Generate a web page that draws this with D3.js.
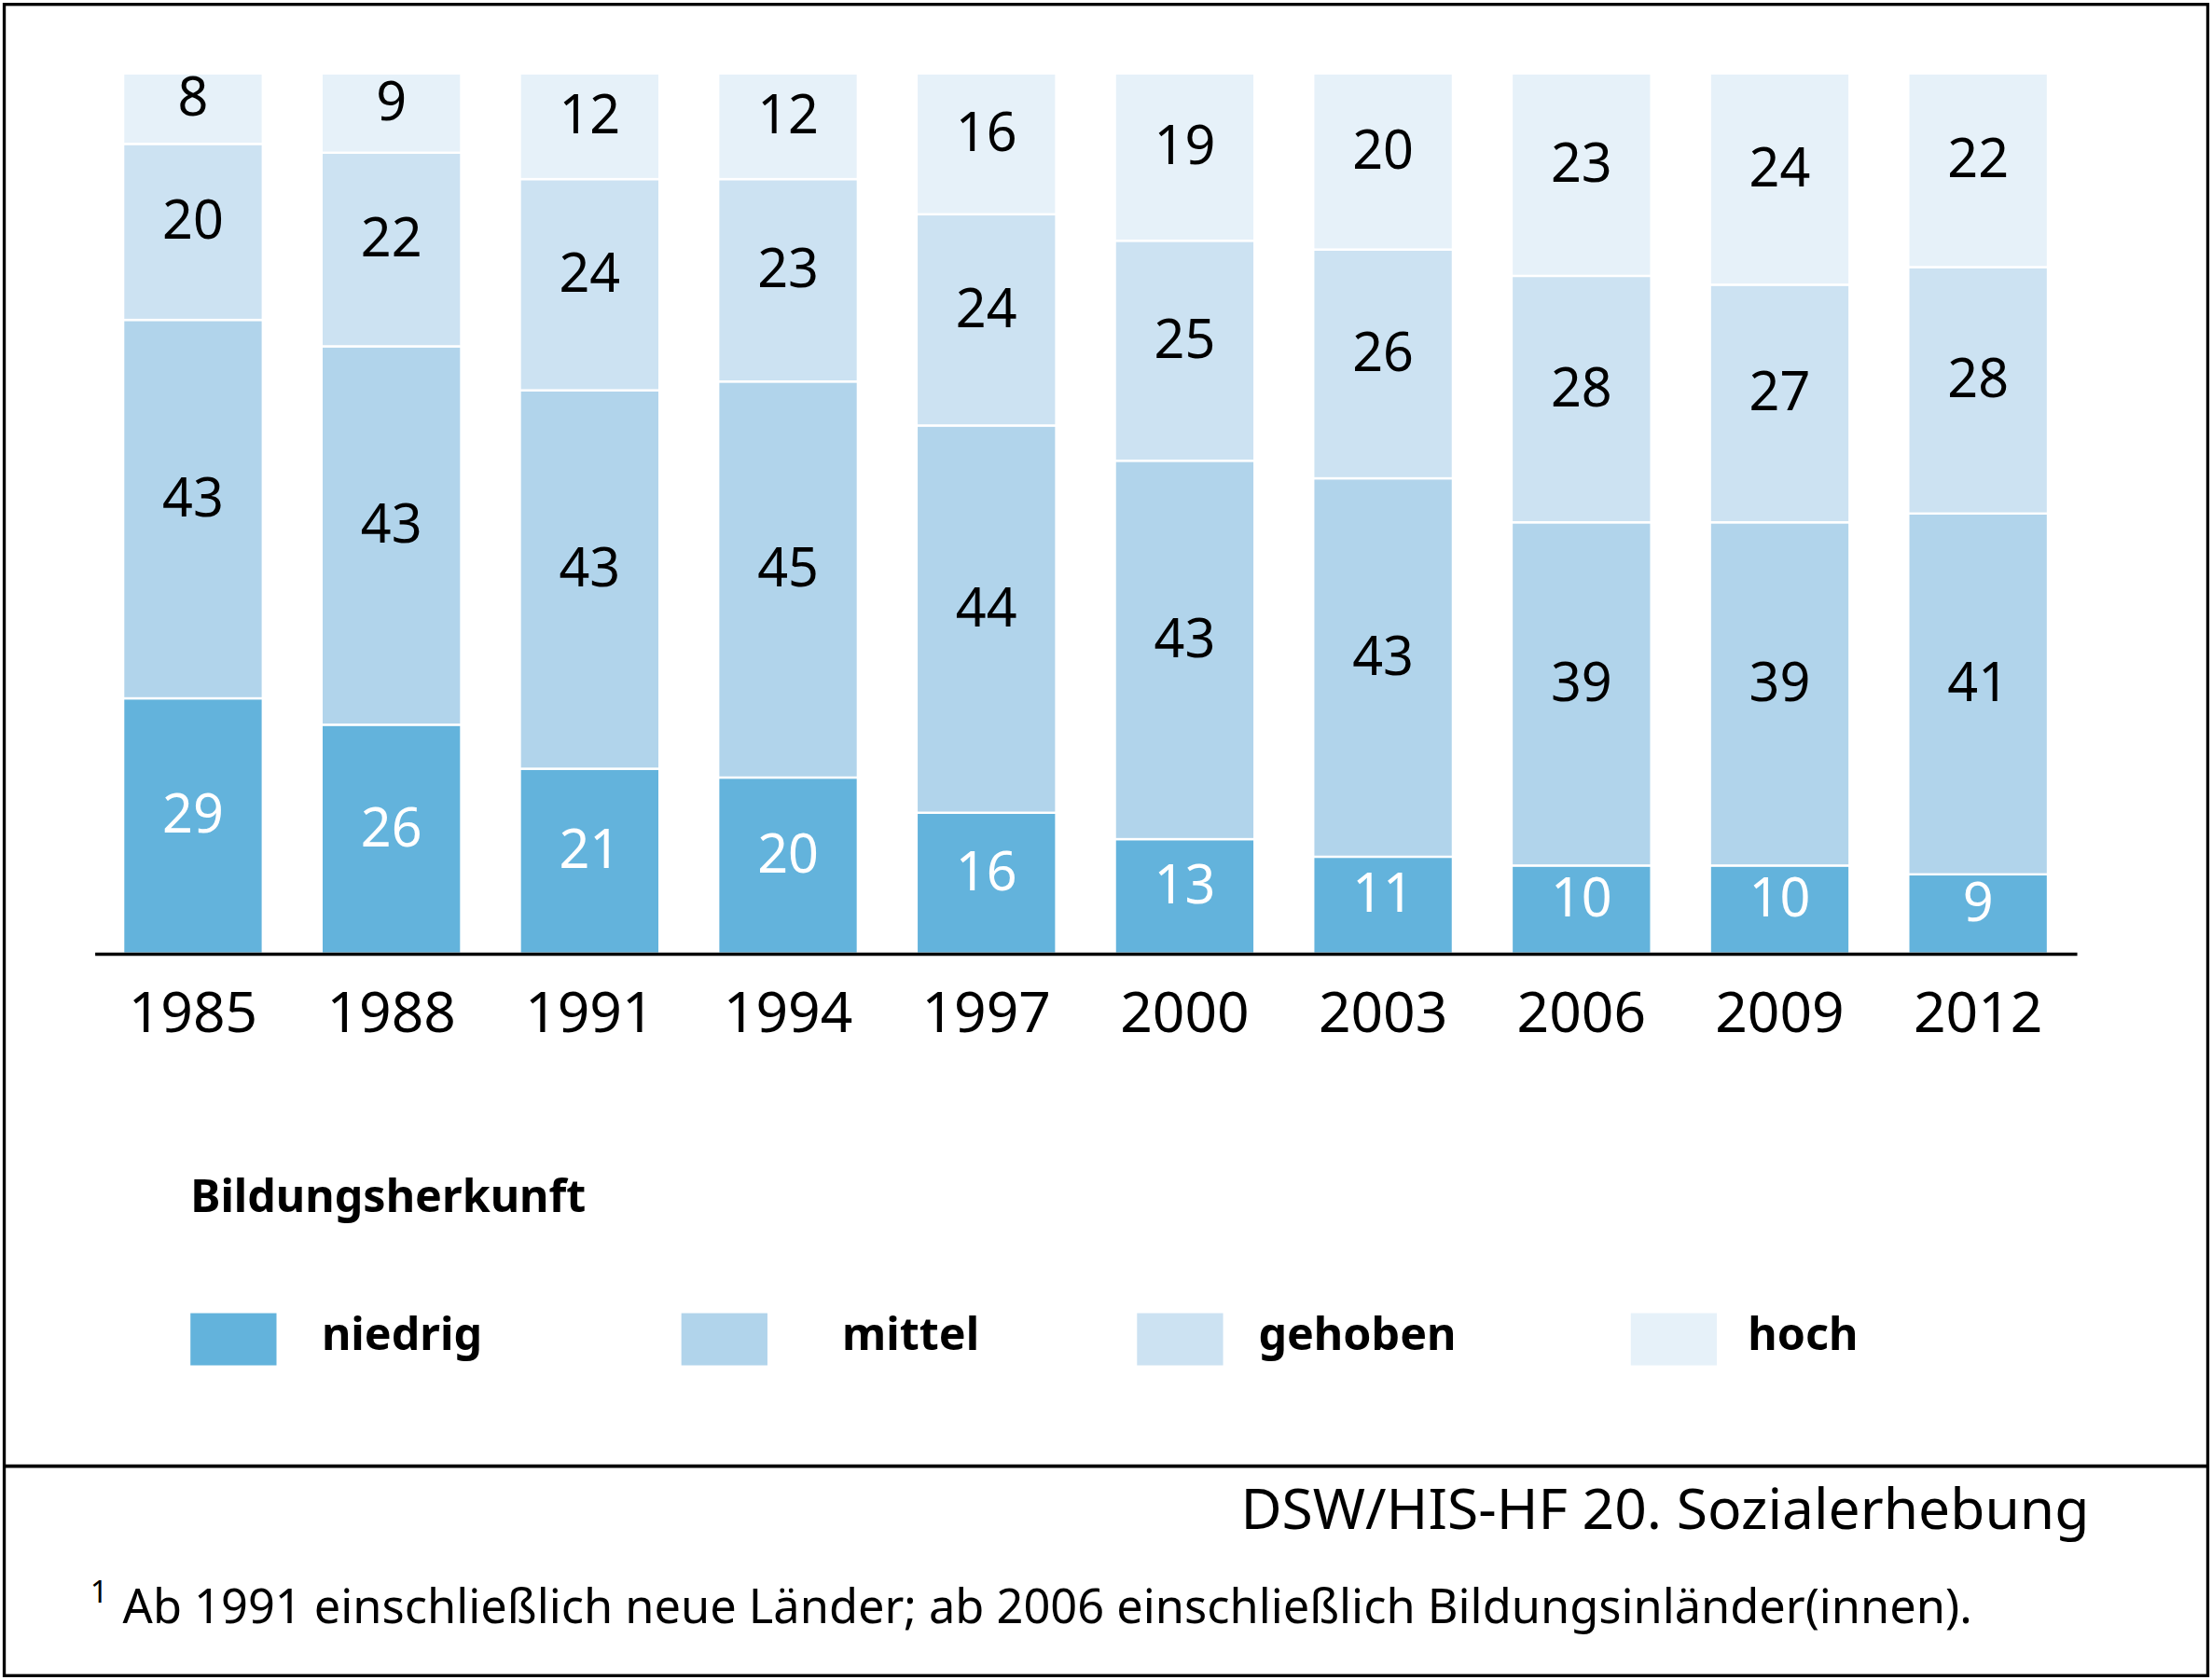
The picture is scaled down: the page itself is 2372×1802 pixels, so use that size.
<!DOCTYPE html>
<html>
<head>
<meta charset="utf-8">
<script src="https://cdn.jsdelivr.net/npm/d3@7"></script>
<style>
  body { margin: 0; background: #fff; }
  svg { display: block; font-family: "Noto Sans", "Open Sans", sans-serif; }
</style>
</head>
<body>
<svg id="chart" width="2372" height="1802" viewBox="0 0 1568 1191"></svg>
<script>
var years = ["1985", "1988", "1991", "1994", "1997", "2000", "2003", "2006", "2009", "2012"];
var groups = ["niedrig", "mittel", "gehoben", "hoch"];
var niedrig = [29, 26, 21, 20, 16, 13, 11, 10, 10, 9];
var mittel = [43, 43, 43, 45, 44, 43, 43, 39, 39, 41];
var gehoben = [20, 22, 24, 23, 24, 25, 26, 28, 27, 28];
var hoch = [8, 9, 12, 12, 16, 19, 20, 23, 24, 22];
var colors = ["#63b3dc", "#b1d4eb", "#cce2f2", "#e6f1f9"];
var legendTitle = "Bildungsherkunft";
var source = "DSW/HIS-HF 20. Sozialerhebung";
var footnote = "Ab 1991 einschließlich neue Länder; ab 2006 einschließlich Bildungsinländer(innen).";

var rows = years.map((y, i) => {
  return { year: y, niedrig: niedrig[i], mittel: mittel[i], gehoben: gehoben[i], hoch: hoch[i] };
});

var svg = d3.select("#chart");

// frame
svg.append("rect")
  .attr("x", 3).attr("y", 3).attr("width", 1562).attr("height", 1185)
  .attr("fill", "none").attr("stroke", "#000").attr("stroke-width", 2.2);
svg.append("line")
  .attr("x1", 3).attr("x2", 1565).attr("y1", 1039.5).attr("y2", 1039.5)
  .attr("stroke", "#000").attr("stroke-width", 2.4);

var x = d3.scaleBand().domain(years).range([67, 1472]).paddingInner(0.296).paddingOuter(0.1445);
var y = d3.scaleLinear().domain([0, 100]).range([676, 52]);
var color = d3.scaleOrdinal().domain(groups).range(colors);

var series = d3.stack().keys(groups)(rows);

var layer = svg.append("g").selectAll("g")
  .data(series)
  .join("g")
  .attr("fill", (d) => color(d.key));

layer.selectAll("rect")
  .data((d) => d)
  .join("rect")
  .attr("x", (d) => x(d.data.year))
  .attr("width", x.bandwidth())
  .attr("y", (d) => y(d[1]))
  .attr("height", (d) => y(d[0]) - y(d[1]))
  .attr("stroke", "#fff")
  .attr("stroke-width", 1.6);

layer.selectAll("text")
  .data((d) => d.map((v) => ({ key: d.key, v: v })))
  .join("text")
  .attr("x", (d) => x(d.v.data.year) + x.bandwidth() / 2)
  .attr("y", (d) => (y(d.v[0]) + y(d.v[1])) / 2 + 5)
  .attr("text-anchor", "middle")
  .attr("font-size", 38)
  .attr("fill", (d) => (d.key === "niedrig" ? "#fff" : "#000"))
  .text((d) => d.v.data[d.key]);

var axis = svg.append("g")
  .attr("transform", "translate(0,676)")
  .call(d3.axisBottom(x).tickSize(0).tickPadding(27));
axis.select(".domain").attr("stroke", "#000").attr("stroke-width", 2.2);
axis.selectAll("text")
  .attr("font-size", 40)
  .attr("font-family", "Noto Sans, sans-serif")
  .attr("fill", "#000");

// legend
svg.append("text")
  .attr("x", 135).attr("y", 859)
  .attr("font-size", 32).attr("font-weight", "bold")
  .text(legendTitle);

var legendX = [135, 483, 806, 1156];
var legendTextX = [228, 597, 892, 1239];
var item = svg.append("g").selectAll("g")
  .data(groups)
  .join("g");
item.append("rect")
  .attr("x", (d, i) => legendX[i]).attr("y", 931)
  .attr("width", 61).attr("height", 37)
  .attr("fill", (d) => color(d));
item.append("text")
  .attr("x", (d, i) => legendTextX[i]).attr("y", 957)
  .attr("font-size", 32).attr("font-weight", "bold")
  .text((d) => d);

svg.append("text")
  .attr("x", 1481).attr("y", 1084)
  .attr("text-anchor", "end")
  .attr("font-size", 40)
  .text(source);

svg.append("text")
  .attr("x", 64).attr("y", 1136)
  .attr("font-size", 22)
  .text("1");
svg.append("text")
  .attr("x", 87).attr("y", 1151)
  .attr("font-size", 33.4)
  .text(footnote);
</script>
</body>
</html>
